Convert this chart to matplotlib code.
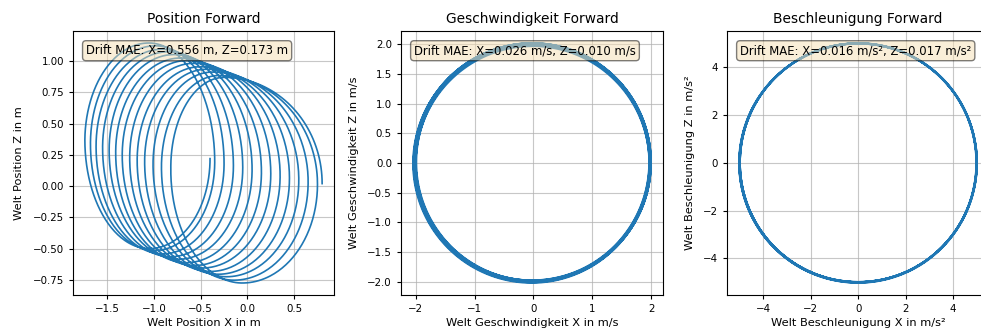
import numpy as np
import matplotlib
matplotlib.use("Agg")
import matplotlib.pyplot as plt

# Forward-integrated position: extreme points of each of the 13 turns
# (R = right-most, T = top, L = left-most, B = bottom point of a turn)
pos_right_x = [0.80, 0.70, 0.60, 0.50, 0.40, 0.30, 0.20, 0.10, 0.00, -0.10, -0.20, -0.30, -0.40]
pos_right_z = [0.02, 0.04, 0.06, 0.07, 0.09, 0.11, 0.12, 0.14, 0.16, 0.17, 0.19, 0.21, 0.22]
pos_top_x = [-0.25, -0.32, -0.39, -0.45, -0.52, -0.59, -0.66, -0.73, -0.80, -0.86, -0.93, -1.00, -1.07]
pos_top_z = [0.87, 0.89, 0.92, 0.94, 0.96, 0.99, 1.01, 1.03, 1.06, 1.08, 1.10, 1.13, 1.15]
pos_left_x = [-0.82, -0.92, -1.01, -1.10, -1.18, -1.26, -1.34, -1.41, -1.48, -1.55, -1.62, -1.68, -1.74]
pos_left_z = [0.15, 0.17, 0.19, 0.21, 0.22, 0.24, 0.26, 0.28, 0.30, 0.32, 0.33, 0.35, 0.37]
pos_bottom_x = [-0.03, -0.12, -0.20, -0.29, -0.37, -0.46, -0.54, -0.63, -0.71, -0.80, -0.88, -0.97, -1.05]
pos_bottom_z = [-0.78, -0.76, -0.73, -0.71, -0.69, -0.66, -0.64, -0.62, -0.59, -0.57, -0.55, -0.52, -0.50]

# Velocity turns: radius and slight centre wander per turn
vel_radius = [2.00, 1.99, 2.02, 2.00, 1.98, 2.01, 2.02, 2.00, 1.98, 2.00, 2.02, 1.99, 2.00]
vel_center_x = [0.00, -0.01, -0.02, -0.03, -0.02, -0.03, -0.03, -0.02, -0.02, -0.01, -0.01, 0.00, 0.00]
vel_center_z = [0.00, 0.01, 0.01, 0.02, 0.01, 0.00, -0.01, -0.01, -0.02, 0.00, 0.01, 0.01, 0.01]

# Acceleration turns
acc_radius = [5.00, 5.01, 5.00, 4.99, 5.00, 5.02, 5.00, 4.99, 5.00, 5.01, 5.00, 4.99, 5.00]
acc_center_x = [0.00, 0.02, 0.01, -0.01, -0.02, 0.00, 0.02, 0.01, -0.01, -0.02, 0.00, 0.01, 0.00]
acc_center_z = [0.00, 0.01, 0.02, 0.01, -0.01, -0.02, 0.00, 0.01, 0.02, 0.00, -0.01, 0.00, 0.01]

titles = ["Position Forward", "Geschwindigkeit Forward", "Beschleunigung Forward"]
xlabels = ["Welt Position X in m", "Welt Geschwindigkeit X in m/s", "Welt Beschleunigung X in m/s²"]
ylabels = ["Welt Position Z in m", "Welt Geschwindigkeit Z in m/s", "Welt Beschleunigung Z in m/s²"]
drift_texts = ["Drift MAE: X=0.556 m, Z=0.173 m",
               "Drift MAE: X=0.026 m/s, Z=0.010 m/s",
               "Drift MAE: X=0.016 m/s², Z=0.017 m/s²"]

SAMPLES_PER_TURN = 320


def turn_track(rx, rz, tx, tz, lx, lz, bx, bz):
    """Continuous track through the four extreme points of every turn,
    using quarter-ellipse arcs between neighbouring extremes."""
    n = len(rx)
    t = np.linspace(0, n, n * SAMPLES_PER_TURN + 1)
    k = np.arange(n) + 0.5
    f = lambda v: np.interp(t, k, v)
    Rx, Rz, Tx, Tz = f(rx), f(rz), f(tx), f(tz)
    Lx, Lz, Bx, Bz = f(lx), f(lz), f(bx), f(bz)
    th = 2 * np.pi * t
    c, s = np.cos(th), np.sin(th)
    upper = s >= 0
    right = c >= 0
    vx = np.where(upper, Tx, Bx)
    x = np.where(right, vx + (Rx - vx) * c, vx + (vx - Lx) * c)
    hz = np.where(right, Rz, Lz)
    z = np.where(upper, hz + (Tz - hz) * s, hz + (hz - Bz) * s)
    return x, z


def circle_track(radius, cx, cz):
    n = len(radius)
    t = np.linspace(0, n, n * SAMPLES_PER_TURN + 1)
    k = np.arange(n) + 0.5
    th = 2 * np.pi * t
    r = np.interp(t, k, radius)
    return np.interp(t, k, cx) + r * np.cos(th), np.interp(t, k, cz) + r * np.sin(th)


tracks = [
    turn_track(pos_right_x, pos_right_z, pos_top_x, pos_top_z,
               pos_left_x, pos_left_z, pos_bottom_x, pos_bottom_z),
    circle_track(vel_radius, vel_center_x, vel_center_z),
    circle_track(acc_radius, acc_center_x, acc_center_z),
]

W, H = 981, 333
fig = plt.figure(figsize=(W / 100, H / 100), dpi=100)
lefts = [73, 401, 727]
widths = [261, 262, 262]
bottom_px, height_px = 38, 264

for i in range(3):
    ax = fig.add_axes([lefts[i] / W, bottom_px / H, widths[i] / W, height_px / H])
    x, z = tracks[i]
    ax.plot(x, z, color="#1f77b4", linewidth=1.2)
    ax.set_title(titles[i], fontsize=9.9)
    ax.set_xlabel(xlabels[i], fontsize=8.2, labelpad=3)
    ax.set_ylabel(ylabels[i], fontsize=8.2, labelpad=6)
    ax.tick_params(labelsize=7.4, length=3, pad=3.5)
    ax.grid(True, alpha=0.7)
    ax.text(0.05, 0.95, drift_texts[i], transform=ax.transAxes, va="top",
            fontsize=8.4, bbox=dict(boxstyle="round", facecolor="wheat", alpha=0.5))

fig.savefig("out.png", dpi=100)
